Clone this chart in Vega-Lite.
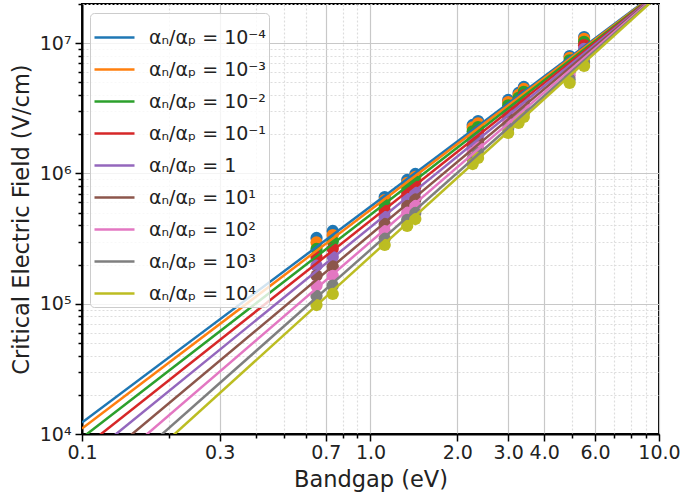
{
  "$schema": "https://vega.github.io/schema/vega-lite/v6.json",
  "autosize": "none",
  "width": 577,
  "height": 430,
  "padding": {"left": 82, "top": 4, "right": 26, "bottom": 69},
  "background": "white",
  "config": {
    "font": "DejaVu Sans",
    "view": {"stroke": "black", "strokeWidth": 2},
    "axis": {
      "domainColor": "black",
      "domainWidth": 2,
      "tickColor": "black",
      "tickWidth": 1.5,
      "labelFontSize": 19,
      "labelColor": "#222222",
      "titleFontSize": 22.5,
      "titleFontWeight": "normal",
      "titleColor": "#222222",
      "labelOverlap": false,
      "labelFlush": false,
      "labelBound": false,
      "gridWidth": 1.2
    }
  },
  "datasets": {
    "lines": [
      {"k": -4, "Eg": 0.1, "E": 12246}, {"k": -4, "Eg": 10, "E": 25350000},
      {"k": -3, "Eg": 0.1, "E": 11015}, {"k": -3, "Eg": 10, "E": 25120000},
      {"k": -2, "Eg": 0.1, "E": 9337}, {"k": -2, "Eg": 10, "E": 24880000},
      {"k": -1, "Eg": 0.1, "E": 7656}, {"k": -1, "Eg": 10, "E": 24660000},
      {"k": 0, "Eg": 0.1, "E": 6124}, {"k": 0, "Eg": 10, "E": 24490000},
      {"k": 1, "Eg": 0.1, "E": 4759}, {"k": 1, "Eg": 10, "E": 24240000},
      {"k": 2, "Eg": 0.1, "E": 3707}, {"k": 2, "Eg": 10, "E": 24040000},
      {"k": 3, "Eg": 0.1, "E": 2851}, {"k": 3, "Eg": 10, "E": 23710000},
      {"k": 4, "Eg": 0.1, "E": 2265}, {"k": 4, "Eg": 10, "E": 23500000}
    ],
    "points": [
      {"k": -4, "Eg": 0.65, "E": 319700}, {"k": -3, "Eg": 0.65, "E": 295700}, {"k": -2, "Eg": 0.65, "E": 263200}, {"k": -1, "Eg": 0.65, "E": 228500}, {"k": 0, "Eg": 0.65, "E": 195900}, {"k": 1, "Eg": 0.65, "E": 164200}, {"k": 2, "Eg": 0.65, "E": 137800}, {"k": 3, "Eg": 0.65, "E": 114700}, {"k": 4, "Eg": 0.65, "E": 97790},
      {"k": -4, "Eg": 0.74, "E": 361800}, {"k": -3, "Eg": 0.74, "E": 336500}, {"k": -2, "Eg": 0.74, "E": 301600}, {"k": -1, "Eg": 0.74, "E": 264100}, {"k": 0, "Eg": 0.74, "E": 228100}, {"k": 1, "Eg": 0.74, "E": 193200}, {"k": 2, "Eg": 0.74, "E": 163900}, {"k": 3, "Eg": 0.74, "E": 137800}, {"k": 4, "Eg": 0.74, "E": 118800},
      {"k": -4, "Eg": 1.12, "E": 659800}, {"k": -3, "Eg": 1.12, "E": 624600}, {"k": -2, "Eg": 1.12, "E": 573900}, {"k": -1, "Eg": 1.12, "E": 518800}, {"k": 0, "Eg": 1.12, "E": 464200}, {"k": 1, "Eg": 1.12, "E": 409500}, {"k": 2, "Eg": 1.12, "E": 361200}, {"k": 3, "Eg": 1.12, "E": 316300}, {"k": 4, "Eg": 1.12, "E": 282500},
      {"k": -4, "Eg": 1.34, "E": 891300}, {"k": -3, "Eg": 1.34, "E": 845200}, {"k": -2, "Eg": 1.34, "E": 780600}, {"k": -1, "Eg": 1.34, "E": 708300}, {"k": 0, "Eg": 1.34, "E": 636900}, {"k": 1, "Eg": 1.34, "E": 563800}, {"k": 2, "Eg": 1.34, "E": 500000}, {"k": 3, "Eg": 1.34, "E": 441000}, {"k": 4, "Eg": 1.34, "E": 395200},
      {"k": -4, "Eg": 1.43, "E": 990800}, {"k": -3, "Eg": 1.43, "E": 941200}, {"k": -2, "Eg": 1.43, "E": 869400}, {"k": -1, "Eg": 1.43, "E": 791600}, {"k": 0, "Eg": 1.43, "E": 713200}, {"k": 1, "Eg": 1.43, "E": 633600}, {"k": 2, "Eg": 1.43, "E": 562800}, {"k": 3, "Eg": 1.43, "E": 497300}, {"k": 4, "Eg": 1.43, "E": 447200},
      {"k": -4, "Eg": 2.26, "E": 2356000}, {"k": -3, "Eg": 2.26, "E": 2254000}, {"k": -2, "Eg": 2.26, "E": 2104000}, {"k": -1, "Eg": 2.26, "E": 1940000}, {"k": 0, "Eg": 2.26, "E": 1773000}, {"k": 1, "Eg": 2.26, "E": 1597000}, {"k": 2, "Eg": 2.26, "E": 1443000}, {"k": 3, "Eg": 2.26, "E": 1296000}, {"k": 4, "Eg": 2.26, "E": 1182000},
      {"k": -4, "Eg": 2.36, "E": 2528000}, {"k": -3, "Eg": 2.36, "E": 2424000}, {"k": -2, "Eg": 2.36, "E": 2270000}, {"k": -1, "Eg": 2.36, "E": 2101000}, {"k": 0, "Eg": 2.36, "E": 1929000}, {"k": 1, "Eg": 2.36, "E": 1751000}, {"k": 2, "Eg": 2.36, "E": 1589000}, {"k": 3, "Eg": 2.36, "E": 1436000}, {"k": 4, "Eg": 2.36, "E": 1315000},
      {"k": -4, "Eg": 3.0, "E": 3665000}, {"k": -3, "Eg": 3.0, "E": 3532000}, {"k": -2, "Eg": 3.0, "E": 3331000}, {"k": -1, "Eg": 3.0, "E": 3110000}, {"k": 0, "Eg": 3.0, "E": 2877000}, {"k": 1, "Eg": 3.0, "E": 2638000}, {"k": 2, "Eg": 3.0, "E": 2419000}, {"k": 3, "Eg": 3.0, "E": 2210000}, {"k": 4, "Eg": 3.0, "E": 2046000},
      {"k": -4, "Eg": 3.26, "E": 4148000}, {"k": -3, "Eg": 3.26, "E": 4005000}, {"k": -2, "Eg": 3.26, "E": 3804000}, {"k": -1, "Eg": 3.26, "E": 3569000}, {"k": 0, "Eg": 3.26, "E": 3331000}, {"k": 1, "Eg": 3.26, "E": 3077000}, {"k": 2, "Eg": 3.26, "E": 2847000}, {"k": 3, "Eg": 3.26, "E": 2619000}, {"k": 4, "Eg": 3.26, "E": 2441000},
      {"k": -4, "Eg": 3.4, "E": 4612000}, {"k": -3, "Eg": 3.4, "E": 4452000}, {"k": -2, "Eg": 3.4, "E": 4229000}, {"k": -1, "Eg": 3.4, "E": 3970000}, {"k": 0, "Eg": 3.4, "E": 3705000}, {"k": 1, "Eg": 3.4, "E": 3421000}, {"k": 2, "Eg": 3.4, "E": 3165000}, {"k": 3, "Eg": 3.4, "E": 2912000}, {"k": 4, "Eg": 3.4, "E": 2714000},
      {"k": -4, "Eg": 4.9, "E": 7977000}, {"k": -3, "Eg": 4.9, "E": 7728000}, {"k": -2, "Eg": 4.9, "E": 7380000}, {"k": -1, "Eg": 4.9, "E": 6976000}, {"k": 0, "Eg": 4.9, "E": 6546000}, {"k": 1, "Eg": 4.9, "E": 6100000}, {"k": 2, "Eg": 4.9, "E": 5682000}, {"k": 3, "Eg": 4.9, "E": 5277000}, {"k": 4, "Eg": 4.9, "E": 4950000},
      {"k": -4, "Eg": 5.5, "E": 11160000}, {"k": -3, "Eg": 5.5, "E": 10800000}, {"k": -2, "Eg": 5.5, "E": 10250000}, {"k": -1, "Eg": 5.5, "E": 9656000}, {"k": 0, "Eg": 5.5, "E": 9028000}, {"k": 1, "Eg": 5.5, "E": 8366000}, {"k": 2, "Eg": 5.5, "E": 7755000}, {"k": 3, "Eg": 5.5, "E": 7165000}, {"k": 4, "Eg": 5.5, "E": 6686000}
    ]
  },
  "encoding": {
    "x": {
      "field": "Eg", "type": "quantitative",
      "scale": {"type": "log", "domain": [0.1, 10], "nice": false},
      "axis": {
        "title": "Bandgap (eV)",
        "values": [0.1, 0.2, 0.3, 0.4, 0.5, 0.6, 0.7, 0.8, 0.9, 1, 2, 3, 4, 5, 6, 7, 8, 9, 10],
        "labelExpr": "indexof([0.1,0.3,0.7,1,2,3,4,6,10], datum.value) >= 0 ? format(datum.value, '.1f') : ''",
        "tickSize": {"condition": {"test": "indexof([0.1,0.3,0.7,1,2,3,4,6,10], datum.value) >= 0", "value": 7}, "value": 4},
        "gridDash": {"condition": {"test": "indexof([0.1,0.3,0.7,1,2,3,4,6,10], datum.value) >= 0", "value": []}, "value": [2, 2]},
        "gridColor": {"condition": {"test": "indexof([0.1,0.3,0.7,1,2,3,4,6,10], datum.value) >= 0", "value": "#c8c8c8"}, "value": "#dddddd"},
        "labelPadding": 2,
        "titlePadding": 6
      }
    },
    "y": {
      "field": "E", "type": "quantitative",
      "scale": {"type": "log", "domain": [10000, 20000000], "nice": false},
      "axis": {
        "title": "Critical Electric Field (V/cm)",
        "values": [10000, 20000, 30000, 40000, 50000, 60000, 70000, 80000, 90000, 100000, 200000, 300000, 400000, 500000, 600000, 700000, 800000, 900000, 1000000, 2000000, 3000000, 4000000, 5000000, 6000000, 7000000, 8000000, 9000000, 10000000, 20000000],
        "labelExpr": "datum.value == 10000 ? '10⁴' : datum.value == 100000 ? '10⁵' : datum.value == 1000000 ? '10⁶' : datum.value == 10000000 ? '10⁷' : ''",
        "tickSize": {"condition": {"test": "indexof([10000,100000,1000000,10000000], datum.value) >= 0", "value": 7}, "value": 4},
        "gridDash": {"condition": {"test": "indexof([10000,100000,1000000,10000000], datum.value) >= 0", "value": []}, "value": [2, 2]},
        "gridColor": {"condition": {"test": "indexof([10000,100000,1000000,10000000], datum.value) >= 0", "value": "#c8c8c8"}, "value": "#dddddd"},
        "labelPadding": 4,
        "titlePadding": 6
      }
    }
  },
  "layer": [
    {
      "data": {"name": "points"},
      "mark": {"type": "circle", "size": 150, "opacity": 1, "clip": true},
      "encoding": {
        "fill": {
          "field": "k", "type": "nominal", "legend": null,
          "scale": {"domain": [4, 3, 2, 1, 0, -1, -2, -3, -4], "range": ["#bcbd22", "#7f7f7f", "#e377c2", "#8c564b", "#9467bd", "#d62728", "#2ca02c", "#ff7f0e", "#1f77b4"]}
        },
        "order": {"field": "k", "type": "quantitative"}
      }
    },
    {
      "data": {"name": "lines"},
      "mark": {"type": "line", "strokeWidth": 2.5, "clip": true},
      "encoding": {
        "color": {
          "field": "k", "type": "nominal",
          "scale": {"domain": [-4, -3, -2, -1, 0, 1, 2, 3, 4], "range": ["#1f77b4", "#ff7f0e", "#2ca02c", "#d62728", "#9467bd", "#8c564b", "#e377c2", "#7f7f7f", "#bcbd22"]},
          "legend": {
            "title": null,
            "orient": "none",
            "legendX": 8,
            "legendY": 9,
            "symbolType": "stroke",
            "symbolSize": 1600,
            "symbolStrokeWidth": 2.5,
            "labelFontSize": 19,
            "labelColor": "#222222",
            "labelLimit": 300,
            "labelOffset": 13,
            "rowPadding": 0,
            "padding": 3,
            "fillColor": "rgba(255,255,255,0.8)",
            "strokeColor": "#cccccc",
            "cornerRadius": 4,
            "labelExpr": "datum.value == -4 ? 'αₙ/αₚ = 10⁻⁴' : datum.value == -3 ? 'αₙ/αₚ = 10⁻³' : datum.value == -2 ? 'αₙ/αₚ = 10⁻²' : datum.value == -1 ? 'αₙ/αₚ = 10⁻¹' : datum.value == 0 ? 'αₙ/αₚ = 1' : datum.value == 1 ? 'αₙ/αₚ = 10¹' : datum.value == 2 ? 'αₙ/αₚ = 10²' : datum.value == 3 ? 'αₙ/αₚ = 10³' : 'αₙ/αₚ = 10⁴'"
          }
        }
      }
    }
  ]
}
